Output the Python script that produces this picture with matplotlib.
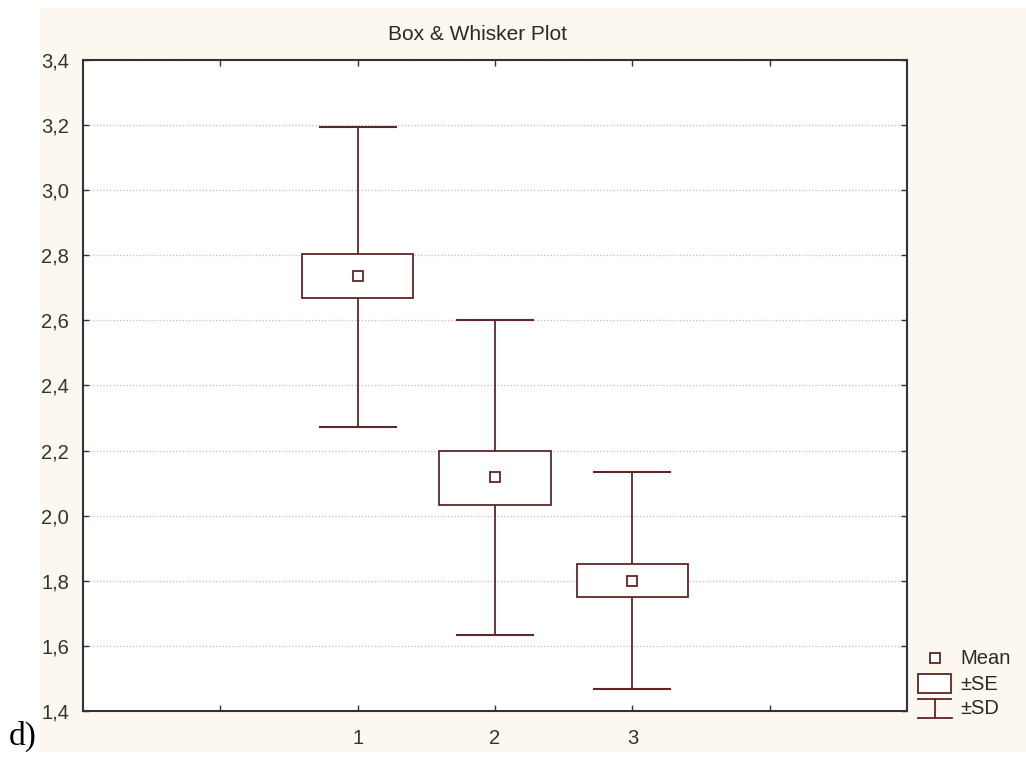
import numpy as np
import matplotlib
matplotlib.use("Agg")
import matplotlib.pyplot as plt
from matplotlib.patches import Rectangle

# values (per group)
groups = [1, 2, 3]
means = [2.735, 2.118, 1.800]
se_lo = [2.668, 2.034, 1.751]
se_hi = [2.803, 2.200, 1.851]
sd_lo = [2.272, 1.633, 1.468]
sd_hi = [3.195, 2.602, 2.135]
yticks = [1.4, 1.6, 1.8, 2.0, 2.2, 2.4, 2.6, 2.8, 3.0, 3.2, 3.4]

plt.rcParams['font.family'] = ['Liberation Sans', 'DejaVu Sans']
col = '#5e2626'
bg = '#fcf7ef'
W, H = 1026, 760

fig = plt.figure(figsize=(W / 100, H / 100), dpi=100, facecolor='white')
# cream panel behind everything, white margin at left/top/bottom
fig.add_artist(Rectangle((40 / W, 8 / H), 1 - 40 / W, (752 - 8) / H,
                         transform=fig.transFigure, facecolor=bg,
                         edgecolor='none', zorder=-10))

ax = fig.add_axes([83 / W, 1 - 711 / H, (907 - 83) / W, (711 - 60) / H])
ax.set_facecolor('white')
x = np.array(groups)
lo = np.array(se_lo)
hi = np.array(se_hi)

ax.vlines(x, hi, sd_hi, color=col, lw=1.3, zorder=2)
ax.vlines(x, sd_lo, lo, color=col, lw=1.3, zorder=2)
ax.hlines(sd_hi, x - 0.285, x + 0.285, color=col, lw=1.5, zorder=2)
ax.hlines(sd_lo, x - 0.285, x + 0.285, color=col, lw=1.5, zorder=2)
ax.bar(x, hi - lo, bottom=lo, width=0.81, facecolor='white',
       edgecolor=col, linewidth=1.3, zorder=3)
ax.plot(x, means, ls='none', marker='s', ms=7, mfc='white', mec=col,
        mew=1.3, zorder=4)

ax.set_xlim(-1, 5)
ax.set_ylim(1.4, 3.4)
ax.set_xticks([0, 1, 2, 3, 4])
ax.set_xticklabels(['', '1', '2', '3', ''])
ax.set_yticks(yticks)
ax.set_yticklabels([('%.1f' % v).replace('.', ',') for v in yticks])
ax.tick_params(direction='in', length=4, width=1, top=True, right=True,
               labelsize=14.5, labelcolor='#333333', color='#333333')
ax.tick_params(axis='x', pad=13)
ax.tick_params(axis='y', pad=10)
ax.grid(axis='y', ls=':', color='#bdbdbd', lw=0.9)
ax.set_axisbelow(True)
for s in ax.spines.values():
    s.set_color('#333333')
    s.set_linewidth(1.5)

fig.text(477 / W, 1 - 35 / H, 'Box & Whisker Plot', ha='center', va='center',
         fontsize=15, color='#2a2a2a')
fig.text(9 / W, 1 - 736 / H, 'd)', ha='left', va='center', fontsize=24,
         family='Liberation Serif', color='black')

# hand drawn legend on an overlay in pixel coordinates
lg = fig.add_axes([0, 0, 1, 1], facecolor='none')
lg.set_xlim(0, W)
lg.set_ylim(H, 0)
lg.axis('off')
lg.plot([935], [658], marker='s', ms=7, mfc='white', mec=col, mew=1.3)
lg.add_patch(Rectangle((918, 674), 33, 19, facecolor='white', edgecolor=col,
                       lw=1.3))
lg.plot([918, 951], [699, 699], color=col, lw=1.3)
lg.plot([918, 952], [718, 718], color=col, lw=1.3)
lg.plot([935, 935], [699, 718], color=col, lw=1.3)
for yy, t in [(658, 'Mean'), (684, '\u00b1SE'), (709, '\u00b1SD')]:
    lg.text(960, yy, t, ha='left', va='center', fontsize=14.5, color='#2a2a2a')

fig.savefig('out.png', dpi=100, facecolor=fig.get_facecolor())
